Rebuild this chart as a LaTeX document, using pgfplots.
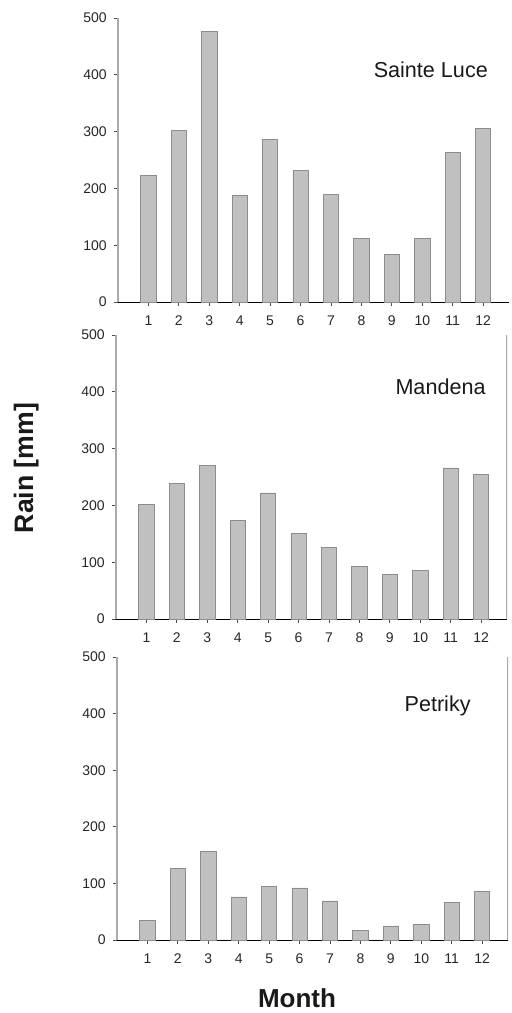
\documentclass[border=0pt]{standalone}
\usepackage{fontspec}
\setmainfont{Liberation Sans}
\usepackage{pgfplots}
\pgfplotsset{compat=1.18}
\definecolor{barfill}{RGB}{192,192,192}
\definecolor{baredge}{RGB}{140,140,140}
\definecolor{yline}{RGB}{170,170,170}
\tikzset{ttl/.style={font=\fontsize{16.2}{19}\selectfont, anchor=base, text=black!90}}
\pgfplotsset{
  panel/.style={
    scale only axis,
    width=293.25pt, height=213pt,
    xmin=0, xmax=12.85, ymin=0, ymax=500,
    axis x line*=bottom, axis y line*=left,
    x axis line style={-, black, line width=0.7pt},
    y axis line style={-, yline, line width=1.1pt},
    xtick={1,...,12}, ytick={0,100,...,500},
    tick align=outside, major tick length=3pt,
    tick style={black!70, line width=0.6pt},
    /pgf/number format/assume math mode=true,
    ticklabel style={font=\fontsize{10.5}{12}\selectfont, text=black!85},
    yticklabel style={xshift=-2pt},
    xticklabel style={yshift=-4pt},
    ybar, bar width=0.5, bar shift=0pt,
    anchor=south west,
  },
  bars/.style={fill=barfill, draw=baredge, line width=0.5pt},
}
\begin{document}
\begin{tikzpicture}
\useasboundingbox (0,0) rectangle (383.25pt,-759.75pt);
% Panel 1: Sainte Luce
\begin{axis}[panel, at={(88.5pt,-226.5pt)}]
\addplot[bars] coordinates {(1,223) (2,302) (3,476) (4,187) (5,286) (6,232) (7,189) (8,112) (9,84) (10,112) (11,264) (12,306)};
\node[ttl] at (rel axis cs:0.80,0.789) {Sainte Luce};
\end{axis}
% Panel 2: Mandena
\begin{axis}[panel, at={(87pt,-464.25pt)}]
\addplot[bars] coordinates {(1,202) (2,239) (3,270) (4,174) (5,222) (6,150) (7,126) (8,92) (9,79) (10,86) (11,266) (12,255)};
\draw[yline, line width=1.1pt] (rel axis cs:1,0) -- (rel axis cs:1,1);
\node[ttl] at (rel axis cs:0.83,0.792) {Mandena};
\end{axis}
% Panel 3: Petriky
\begin{axis}[panel, at={(87.75pt,-705pt)}, height=212.25pt]
\addplot[bars] coordinates {(1,35) (2,126) (3,156) (4,76) (5,94) (6,92) (7,69) (8,17) (9,25) (10,27) (11,67) (12,86)};
\draw[yline, line width=1.1pt] (rel axis cs:1,0) -- (rel axis cs:1,1);
\node[ttl] at (rel axis cs:0.82,0.806) {Petriky};
\end{axis}
\node[rotate=90, anchor=base, font=\bfseries\fontsize{20}{24}\selectfont, text=black!90] at (24.75pt,-351pt) {Rain [mm]};
\node[anchor=base, font=\bfseries\fontsize{19.5}{23}\selectfont, text=black!90] at (222.75pt,-755.25pt) {Month};
\end{tikzpicture}
\end{document}
